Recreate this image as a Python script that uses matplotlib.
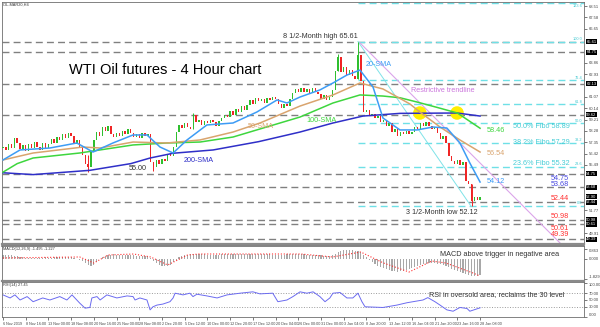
import numpy as np
import matplotlib
matplotlib.use('Agg')
import matplotlib.pyplot as plt

plt.rcParams['font.family'] = ['Liberation Sans', 'DejaVu Sans']

W, H = 600, 327

# one candle = two 4h bars
open0 = 56.9
closes = [
    57.0, 56.7, 57.2, 56.9, 57.7, 57.3, 56.8, 57.1, 56.6, 57.2,
    56.9, 57.4, 57.0, 56.7, 57.3, 56.9, 57.2, 57.6, 57.3, 57.8,
    57.5, 58.0, 57.7, 58.1, 57.9, 57.2, 57.5, 57.0, 56.3, 55.6,
    55.3, 56.6, 57.5, 58.2, 57.9, 58.6, 58.3, 58.7, 58.0, 57.8,
    58.1, 57.9, 58.3, 58.0, 58.4, 58.1, 57.8, 58.0, 57.7, 58.1,
    57.9, 58.0, 55.7, 55.3, 55.9, 55.6, 56.0, 55.8, 56.4, 56.2,
    57.0, 58.2, 58.8, 58.5, 58.9, 58.6, 58.4, 59.6, 59.0, 59.2,
    58.8, 59.1, 58.9, 59.2, 59.0, 58.7, 59.1, 59.3, 59.6, 59.4,
    59.9, 59.6, 60.1, 59.8, 60.3, 60.0, 60.4, 60.8, 60.5, 61.0,
    60.7, 60.9, 60.6, 61.0, 60.8, 61.1, 60.9, 60.5, 60.2, 60.5,
    60.3, 60.9, 61.4, 61.7, 61.5, 61.8, 61.5, 61.7, 61.4, 61.8,
    61.5, 61.3, 60.9, 61.2, 60.8, 61.1, 61.6, 63.2, 64.3, 63.1,
    63.5, 62.9, 63.3, 62.8, 62.5, 64.5, 62.4, 59.8, 60.0, 59.5,
    59.7, 59.3, 59.5, 59.0, 59.2, 58.7, 58.9, 58.2, 58.4, 57.9,
    58.2, 58.0, 58.3, 58.0, 58.2, 58.6, 58.4, 58.9, 58.7, 59.0,
    58.7, 58.4, 58.6, 58.1, 57.6, 57.9, 57.3, 56.2, 55.8, 55.6,
    55.9, 55.5, 55.7, 54.2, 53.9, 52.5, 52.9, 52.6, 52.9,
]
wick_idx = [30, 53, 67, 118, 125, 165]
wick_lo = [54.95, 55.0, 58.4, 63.2, 62.5, 52.12]
wick_hi = [56.3, 55.7, 59.75, 64.6, 65.61, 53.9]

sma20_j = [0, 6, 16.5, 26, 31.7, 38.7, 45.8, 50.7, 55.3, 59.9, 64.8, 71.8, 81, 89.4, 96.5,
           100, 104.6, 111.6, 116.2, 121.1, 125.7, 130.3, 133.8, 139.8, 145.8, 151.4, 156.3, 160.9, 164.4, 168]
sma20 = [55.9, 56.72, 56.88, 57.29, 56.55, 57.29, 57.95, 57.95, 56.96, 56.47, 57.54, 58.77, 58.93, 59.83, 60.82,
         60.57, 61.06, 61.64, 62.21, 62.86, 63.27, 61.88, 59.34, 58.36, 58.36, 58.6, 58.52, 57.29, 55.65, 54.09]
sma50_j = [0, 10.6, 28.2, 34.2, 45.8, 57.7, 69.4, 81, 90.5, 104.6, 116.2, 125.7, 133.8, 143.3, 146.8, 153.9, 160.9, 168]
sma50 = [55.9, 56.47, 56.96, 56.88, 57.37, 57.29, 57.54, 58.19, 58.93, 60.32, 61.23, 62.21, 61.72, 60.49, 59.83, 58.6, 57.54, 56.55]
sma100_j = [0, 5, 10.6, 27, 45.8, 57.7, 69.4, 81, 104.6, 116.2, 125.7, 133.8, 139.8, 145.8, 153, 160, 168]
sma100 = [54.9, 55.6, 56.06, 56.47, 57.13, 57.29, 57.37, 57.78, 59.42, 60.57, 61.23, 61.14, 61.0, 60.65, 60.2, 59.75, 58.5]
sma200_j = [0, 10.6, 30.6, 45, 51.8, 59.9, 74, 90, 104.6, 116.2, 126.8, 139.8, 159.9, 168]
sma200 = [54.85, 54.7, 55.05, 55.6, 56.06, 56.45, 56.72, 57.4, 58.19, 58.93, 59.5, 59.72, 59.75, 59.5]

level_lines = [65.61, 64.75, 62.13, 59.62, 54.75, 53.68, 52.44, 50.98, 50.61, 49.39]
fib_levels = [52.12, 55.32, 57.29, 58.89, 60.45, 62.43, 65.61, 68.79]
fib_names = ['0.0', '23.6', '38.2', '50.0', '61.8', '76.4', '100.0', '123.6']
price_ticks = [68.51, 67.58, 66.65, 63.86, 62.93, 61.07, 60.14, 59.21, 58.28, 57.35, 56.42, 55.49, 51.77, 49.91]

macd = [
    0.30, 0.32, 0.30, 0.28, 0.25, 0.22, 0.18,
    0.12, 0.08, 0.05, 0.03, 0.02, 0.04, 0.06, 0.08, 0.10, 0.08, 0.07, 0.10, 0.13, 0.15, 0.16, 0.14, 0.12, 0.10, 0.05, -0.02, -0.10,
    -0.25, -0.45, -0.62, -0.72, -0.55, -0.30,
    -0.05, 0.12, 0.25, 0.32, 0.36, 0.38, 0.36, 0.34, 0.33, 0.32, 0.30, 0.30, 0.28,
    0.27, 0.25, 0.24, 0.22, 0.20, 0.05,
    -0.25, -0.45, -0.58, -0.66, -0.70, -0.68, -0.55, -0.35, -0.10, 0.10,
    0.22, 0.30, 0.36, 0.40, 0.42, 0.43, 0.42, 0.40, 0.38, 0.36, 0.35, 0.34, 0.35, 0.36, 0.38, 0.40, 0.42, 0.43, 0.44, 0.44, 0.45,
    0.45, 0.44, 0.43, 0.42, 0.42, 0.41, 0.42, 0.43, 0.42, 0.40, 0.37, 0.33, 0.30, 0.30, 0.32, 0.35, 0.38, 0.40, 0.41, 0.40, 0.39,
    0.38, 0.37, 0.36, 0.35, 0.34, 0.33, 0.32, 0.30, 0.27, 0.25, 0.24, 0.30,
    0.45, 0.62, 0.72, 0.78, 0.80, 0.78, 0.74, 0.70, 0.72,
    0.60, 0.35, 0.10, -0.12, -0.32, -0.50, -0.65, -0.78, -0.90, -1.00, -1.08, -1.14, -1.18, -1.20, -1.18, -1.12, -1.05, -0.95,
    -0.85, -0.75, -0.66, -0.58, -0.52, -0.48, -0.45, -0.44, -0.44, -0.46, -0.50, -0.56, -0.65, -0.78, -0.92,
    -1.05, -1.15, -1.25, -1.33, -1.40, -1.50, -1.58, -1.62, -1.58, -1.50,
]
sig_j = [0, 27, 32, 37, 46, 52, 58, 65, 69, 105, 116, 126, 134, 143, 151, 156, 165.5, 168]
sig = [0.05, 0.14, -0.41, 0.32, 0.41, 0.14, -0.59, 0.32, 0.41, 0.41, 0.14, 0.59, -0.41, -1.23, -0.23, -0.41, -1.32, -1.6]

rsi_j = [0, 2.5, 4.2, 6, 8.5, 10.6, 14, 16.5, 20, 22.5, 24.3, 27, 28.9, 30.6, 31.3, 33.1, 34.2, 36.6,
         40.1, 43.7, 45.8, 46.5, 48.2, 50.7, 51.8, 52.8, 54.2, 56.3, 58.8, 59.9, 60.6, 63.4, 65.8, 66.9,
         68.3, 71.8, 75.4, 78.9, 83.5, 88, 90.5, 95, 96.8, 100, 102.1, 104.6, 107, 109.2, 111.6, 113.4,
         115.1, 116.2, 118.7, 121.1, 123.2, 125, 126.4, 127.5, 133.8, 138.7, 142.3, 144.4, 147.9, 149.6,
         152.1, 153.9, 156.3, 158.5, 160.9, 163.4, 164.4, 168]
rsi = [65, 56, 65, 50, 60, 45, 56, 50, 60, 50, 65, 41, 26, 28, 56, 60, 50, 65,
       56, 62, 60, 50, 56, 50, 21, 30, 35, 38, 45, 56, 70, 65, 70, 60,
       67, 62, 56, 65, 70, 74, 68, 70, 45, 50, 60, 74, 70, 74, 60, 45,
       56, 70, 72, 56, 56, 70, 45, 30, 28, 35, 42, 45, 50, 57,
       45, 35, 21, 17, 28, 25, 17, 27]

xlabels = ["6 Nov 2019", "8 Nov 16:00", "13 Nov 00:00", "18 Nov 08:00", "20 Nov 16:00", "25 Nov 00:00",
           "28 Nov 08:00", "2 Dec 20:00", "5 Dec 12:00", "10 Dec 00:00", "12 Dec 20:00", "17 Dec 12:00",
           "20 Dec 04:00", "26 Dec 00:00", "31 Dec 00:00", "3 Jan 04:00", "8 Jan 20:00", "13 Jan 12:00",
           "16 Jan 04:00", "21 Jan 20:00", "23 Jan 16:00", "28 Jan 08:00"]

fig = plt.figure(figsize=(6, 3.27), dpi=100)
fig.patch.set_facecolor('white')


def fx(x):
    return x / W


def fy(y):
    return 1 - y / H


ax = fig.add_axes([fx(2), fy(244), 582 / W, 242 / H])
ax_m = fig.add_axes([fx(2), fy(281), 582 / W, 35 / H])
ax_r = fig.add_axes([fx(2), fy(317), 582 / W, 35 / H])

XL = (-0.35, 204.6)
for a in (ax, ax_m, ax_r):
    a.set_xlim(*XL)
    for s in a.spines.values():
        s.set_color('#6e6e6e')
        s.set_linewidth(0.6)
    a.yaxis.tick_right()
    a.tick_params(axis='y', labelsize=3.0, length=2, width=0.5, colors='#444444', pad=1.2)

# ---- main price panel
ax.set_ylim(49.01, 68.85)
ax.spines['bottom'].set_linewidth(1.6)
ax.spines['bottom'].set_color('#8a8a8a')
ax.set_xticks([])

for lv in level_lines:
    ax.axhline(lv, color='#808080', lw=1.0, ls=(0, (5, 3)), zorder=1)
ax.hlines(fib_levels, 125, XL[1], colors='#6fe0e6', lw=1.0, linestyles=(0, (5, 3)), zorder=1)
for lv, nm in zip(fib_levels, fib_names):
    top = lv > 68
    ax.text(0.997, lv - 0.08 if top else lv + 0.05, nm, transform=ax.get_yaxis_transform(),
            ha='right', va='top' if top else 'bottom', fontsize=2.8, color='#40c8d0')

opens = np.array([open0] + closes[:-1])
cl = np.array(closes)
idx = np.arange(len(cl))
col = np.where(cl >= opens, '#2fbf2f', '#f02525')
ax.bar(idx, np.maximum(np.abs(cl - opens), 0.06), bottom=np.minimum(opens, cl), width=0.5,
       color=col, zorder=4)
ax.vlines(wick_idx, wick_lo, wick_hi, colors=[col[i] for i in wick_idx], lw=0.7, zorder=4)

ax.scatter([146.8, 159.9], [59.75, 59.75], s=95, color='#ffee00', zorder=3, edgecolors='none')
ax.plot(sma200_j, sma200, color='#2f2fc8', lw=1.1, zorder=5)
ax.plot(sma100_j, sma100, color='#3ed63e', lw=1.1, zorder=5)
ax.plot(sma50_j, sma50, color='#d9a46e', lw=1.1, zorder=5)
ax.plot(sma20_j, sma20, color='#3d9cf5', lw=1.1, zorder=5)
ax.plot([125, 164.8], [65.61, 52.12], color='#7fe3e8', lw=0.7, zorder=2)
ax.plot([125.7, 200], [65.5, 48.2], color='#dba4ea', lw=0.8, zorder=2)

ax.set_yticks(price_ticks)
ax.set_yticklabels([f'{v:.2f}' for v in price_ticks])
for lv in level_lines + [closes[-1]]:
    ax.text(1.004, lv, f'{lv:.2f}', transform=ax.get_yaxis_transform(), fontsize=3.0, color='white',
            va='center', ha='left', bbox=dict(boxstyle='square,pad=0.12', fc='black', ec='none'))


def ftxt(x, y, s, size=5.2, color='#333333', ha='center'):
    fig.text(fx(x), fy(y), s, fontsize=size, color=color, ha=ha, va='center')


ftxt(3, 5, 'OIL-MAR20,H4', size=2.8, ha='left')
ftxt(165, 70, 'WTI Oil futures - 4 Hour chart', size=10.5, color='black')
ftxt(320, 36, '8 1/2-Month high 65.61')
ftxt(379, 65, '20-SMA', color='#3d9cf5')
ftxt(443, 90, 'Restrictive trendline', color='#cc77dd')
ftxt(261, 127, '50-SMA', color='#d9a46e')
ftxt(322, 121, '100-SMA', color='#3ed63e')
ftxt(199, 161, '200-SMA', color='#2f2fc8')
ftxt(138, 168, '55.00')
ftxt(496, 130, '58.46', color='#3ed63e')
ftxt(496, 153, '56.54', color='#d9a46e')
ftxt(496, 181, '54.12', color='#3d9cf5')
ftxt(541, 126, '50.0% Fibo 58.89', color='#45cdd6')
ftxt(541, 143, '38.2% Fibo 57.29', color='#45cdd6')
ftxt(541, 163, '23.6% Fibo 55.32', color='#45cdd6')
ftxt(560, 178, '54.75', color='#4a4ae0')
ftxt(560, 184, '53.68', color='#4a4ae0')
ftxt(560, 198, '52.44', color='#ff3030')
ftxt(560, 217, '50.98', color='#ff3030')
ftxt(560, 228, '50.61', color='#ff3030')
ftxt(560, 235, '49.39', color='#ff3030')
ftxt(442, 212, '3 1/2-Month low 52.12')

# ---- MACD panel
ax_m.set_ylim(-2.05, 1.14)
ax_m.spines['top'].set_linewidth(1.2)
ax_m.spines['bottom'].set_linewidth(1.6)
ax_m.spines['bottom'].set_color('#8a8a8a')
ax_m.set_xticks([])
ax_m.bar(np.arange(len(macd)), macd, width=0.4, color='#a8a8a8', zorder=2)
ax_m.plot(sig_j, sig, color='#ff3030', ls=':', lw=0.8, zorder=3)
ax_m.set_yticks([0.863, 0.0, -1.829])
ax_m.set_yticklabels(['0.863', '0.000', '-1.829'])
ml = ax_m.get_yticklabels()
ml[0].set_va('top')
ml[-1].set_va('bottom')
ftxt(3, 249, 'MACD(12,26,9) -1.495 -1.227', size=2.8, ha='left')
ftxt(500, 254, 'MACD above trigger in negative area')

# ---- RSI panel
ax_r.set_ylim(0, 102.9)
ax_r.axhline(70, color='#9a9a9a', ls=':', lw=0.7)
ax_r.axhline(30, color='#9a9a9a', ls=':', lw=0.7)
ax_r.plot(rsi_j, rsi, color='#6b6bf0', lw=0.7)
ax_r.set_yticks([100, 70, 50, 30, 0])
ax_r.set_yticklabels(['100.00', '70.00', '50.00', '30.00', '0.00'])
rl = ax_r.get_yticklabels()
rl[0].set_va('top')
rl[-1].set_va('bottom')
ax_r.set_xticks(np.arange(len(xlabels)) * 8)
ax_r.set_xticklabels(xlabels, ha='left')
ax_r.tick_params(axis='x', labelsize=2.7, length=2, width=0.5, colors='#444444', pad=1.5)
ftxt(3, 285, 'RSI(14) 27.45', size=2.8, ha='left')
ftxt(497, 295, 'RSI in oversold area, reclaims the 30 level')

fig.savefig('out.png', dpi=100, facecolor='white')
